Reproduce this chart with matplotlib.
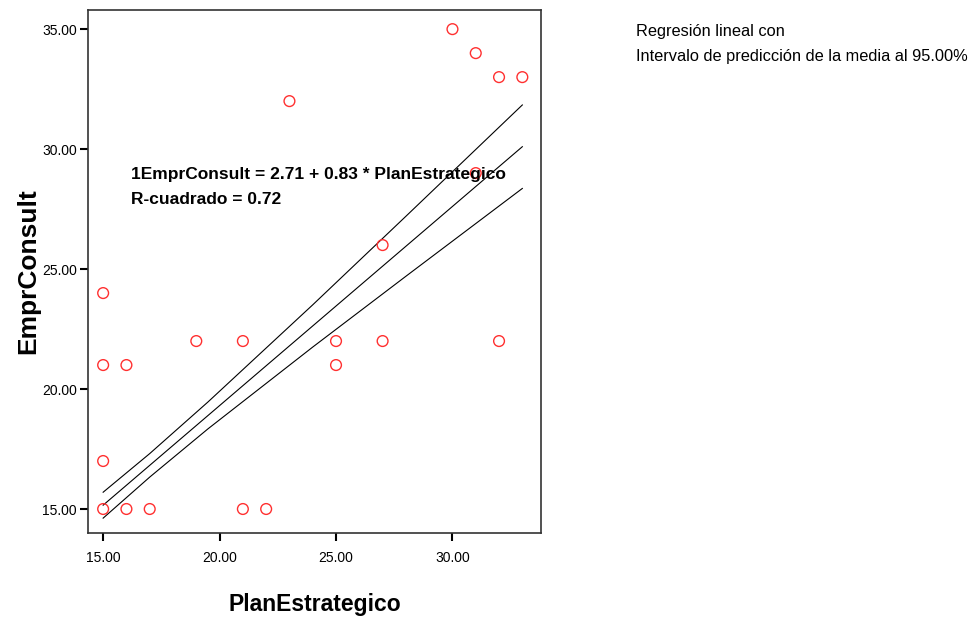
import numpy as np
import matplotlib.pyplot as plt

plt.rcParams['font.family'] = ['Liberation Sans', 'DejaVu Sans']

# data
plan = [15, 15, 15, 15, 16, 16, 17, 19, 21, 21, 22, 23, 25, 25, 27, 27, 30, 31, 31, 32, 32, 33]
empr = [24, 21, 17, 15, 21, 15, 15, 22, 22, 15, 15, 32, 22, 21, 26, 22, 35, 34, 29, 33, 22, 33]

# recta ajustada
intercept = 2.71
slope = 0.83
fit_x = [15, 33]

# intervalo de confianza de la media
band_x = [15, 17, 19.5, 24, 28, 33]
band_upper = [15.70, 17.31, 19.46, 23.51, 27.20, 31.84]
band_lower = [14.62, 16.33, 18.34, 21.75, 24.70, 28.36]

x_ticks = [15, 20, 25, 30]
y_ticks = [15, 20, 25, 30, 35]

fig = plt.figure(figsize=(9.8, 6.21), dpi=100)
ax = fig.add_axes([0.0898, 0.1417, 0.4622, 0.8423])

ax.scatter(plan, empr, s=60, facecolors='none', edgecolors='#ff3030', linewidths=1.0, zorder=3)

fx = np.array(fit_x, dtype=float)
ax.plot(fx, intercept + slope * fx, color='black', linewidth=0.8, zorder=2)
ax.plot(band_x, band_upper, color='black', linewidth=0.8, zorder=2)
ax.plot(band_x, band_lower, color='black', linewidth=0.8, zorder=2)

ax.set_xlim(14.35, 33.8)
ax.set_ylim(14.0, 35.8)
ax.set_xticks(x_ticks)
ax.set_yticks(y_ticks)
ax.set_xticklabels([f'{v:.2f}' for v in x_ticks])
ax.set_yticklabels([f'{v:.2f}' for v in y_ticks])
ax.tick_params(direction='out', length=6, width=1.5, labelsize=10, color='black')
ax.tick_params(axis='x', pad=7)
ax.tick_params(axis='y', pad=2)
for sp in ax.spines.values():
    sp.set_linewidth(1.2)
    sp.set_color('#333333')

ax.set_xlabel('PlanEstrategico', fontsize=16.5, fontweight='bold', labelpad=20)
ax.set_ylabel('EmprConsult', fontsize=19, fontweight='bold', labelpad=1)

ax.text(0.0955, 0.6845, '1EmprConsult = 2.71 + 0.83 * PlanEstrategico',
        transform=ax.transAxes, fontsize=12.5, fontweight='bold', va='center', ha='left')
ax.text(0.0955, 0.6367, 'R-cuadrado = 0.72',
        transform=ax.transAxes, fontsize=12.5, fontweight='bold', va='center', ha='left')

fig.text(0.649, 0.9485, 'Regresión lineal con', fontsize=11.8, va='center', ha='left')
fig.text(0.649, 0.9098, 'Intervalo de predicción de la media al 95.00%',
         fontsize=11.8, va='center', ha='left')

fig.savefig('out.png', dpi=100)
